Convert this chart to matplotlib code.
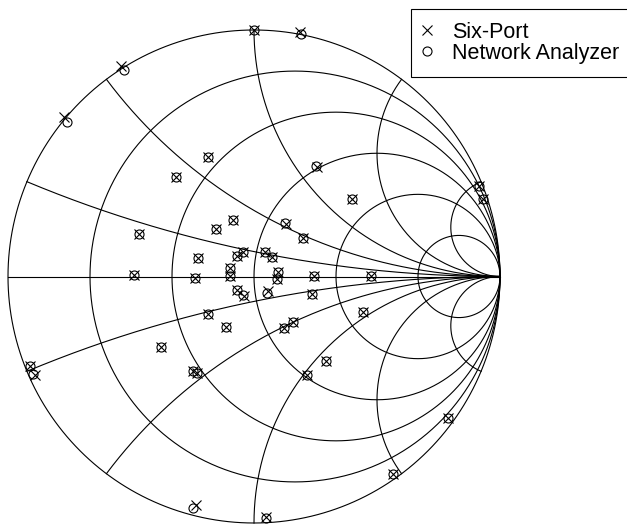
import numpy as np
import matplotlib.pyplot as plt
from matplotlib.lines import Line2D

plt.rcParams['font.family'] = ['Liberation Sans', 'DejaVu Sans']

# measured reflection coefficients, real and imaginary parts
six_port_re = [0.000, 0.187, -0.539, -0.772, -0.186, -0.318, 0.258, 0.915, 0.929, 0.400,
               -0.467, -0.488, -0.154, -0.087, -0.229, -0.239, 0.130, 0.200, -0.043, -0.069,
               -0.096, -0.096, 0.043, 0.073, 0.096, 0.092, 0.245, 0.476, -0.071, -0.041,
               0.057, 0.234, -0.185, -0.112, -0.378, -0.247, -0.233, 0.120, 0.160, 0.442,
               0.293, 0.215, 0.787, 0.564, 0.049, -0.236, -0.911, -0.890]
six_port_im = [0.998, 0.990, 0.854, 0.646, 0.486, 0.404, 0.443, 0.368, 0.313, 0.313,
               0.173, 0.006, 0.192, 0.231, 0.075, -0.008, 0.215, 0.158, 0.100, 0.085,
               0.033, 0.002, 0.100, 0.080, 0.017, -0.010, 0.003, 0.003, -0.053, -0.079,
               -0.059, -0.072, -0.154, -0.203, -0.287, -0.384, -0.392, -0.207, -0.183, -0.143,
               -0.343, -0.400, -0.576, -0.800, -0.974, -0.925, -0.364, -0.400]

analyzer_re = [0.000, 0.191, -0.528, -0.762, -0.186, -0.318, 0.252, 0.915, 0.929, 0.400,
               -0.467, -0.488, -0.154, -0.087, -0.229, -0.239, 0.126, 0.200, -0.043, -0.069,
               -0.096, -0.096, 0.043, 0.073, 0.096, 0.092, 0.245, 0.476, -0.071, -0.043,
               0.052, 0.234, -0.185, -0.115, -0.378, -0.247, -0.233, 0.120, 0.160, 0.442,
               0.293, 0.215, 0.787, 0.564, 0.047, -0.250, -0.911, -0.898]
analyzer_im = [0.998, 0.982, 0.839, 0.628, 0.486, 0.404, 0.447, 0.368, 0.313, 0.313,
               0.173, 0.006, 0.192, 0.231, 0.075, -0.008, 0.219, 0.158, 0.100, 0.085,
               0.033, 0.002, 0.100, 0.080, 0.017, -0.010, 0.003, 0.003, -0.053, -0.075,
               -0.065, -0.072, -0.154, -0.205, -0.287, -0.384, -0.392, -0.207, -0.183, -0.143,
               -0.343, -0.400, -0.576, -0.800, -0.980, -0.941, -0.364, -0.394]

# smith chart grid values
resistances = [0.2, 0.5, 1, 2, 5]
reactances = [0.2, 0.5, 1, 2, 5]


def gamma(z):
    return (z - 1) / (z + 1)


fig = plt.figure(figsize=(6.27, 5.25), dpi=100)
ax = fig.add_axes([8 / 627, 2 / 525, 492 / 627, 493 / 525])
ax.set_xlim(-1, 1)
ax.set_ylim(-1, 1)
ax.axis('off')

grid = dict(color='black', lw=0.8, clip_on=False)
t = np.linspace(0, 2 * np.pi, 721)

# outer circle (r = 0) and real axis
ax.plot(np.cos(t), np.sin(t), **grid)
ax.plot([-1, 1], [0, 0], **grid)

# constant resistance circles
for r in resistances:
    c = r / (1 + r)
    rad = 1 / (1 + r)
    ax.plot(c + rad * np.cos(t), rad * np.sin(t), **grid)

# constant reactance arcs
r_sweep = np.concatenate([[0], np.logspace(-3, 4, 800)])
for x in reactances:
    for sign in (1, -1):
        g = gamma(r_sweep + 1j * sign * x)
        ax.plot(np.append(g.real, 1), np.append(g.imag, 0), **grid)

ax.plot(six_port_re, six_port_im, ls='none', marker='x', ms=6.5, mew=0.8,
        color='black', clip_on=False)
ax.plot(analyzer_re, analyzer_im, ls='none', marker='o', ms=6.5, mew=0.8,
        mfc='none', mec='black', clip_on=False)

handles = [Line2D([], [], ls='none', marker='x', ms=6.5, mew=0.8, color='black'),
           Line2D([], [], ls='none', marker='o', ms=6.5, mew=0.8, mfc='none', mec='black')]
leg = ax.legend(handles, ['Six-Port', 'Network Analyzer'], loc='upper left',
                bbox_to_anchor=(411 / 627, 1 - 9 / 525), bbox_transform=fig.transFigure,
                fontsize=15.5, frameon=True, fancybox=False, framealpha=1,
                edgecolor='black', handlelength=0.3, handletextpad=1.0,
                borderpad=0.6, labelspacing=0.0, borderaxespad=0)
leg.get_frame().set_linewidth(0.8)

fig.savefig('out.png', dpi=100)
